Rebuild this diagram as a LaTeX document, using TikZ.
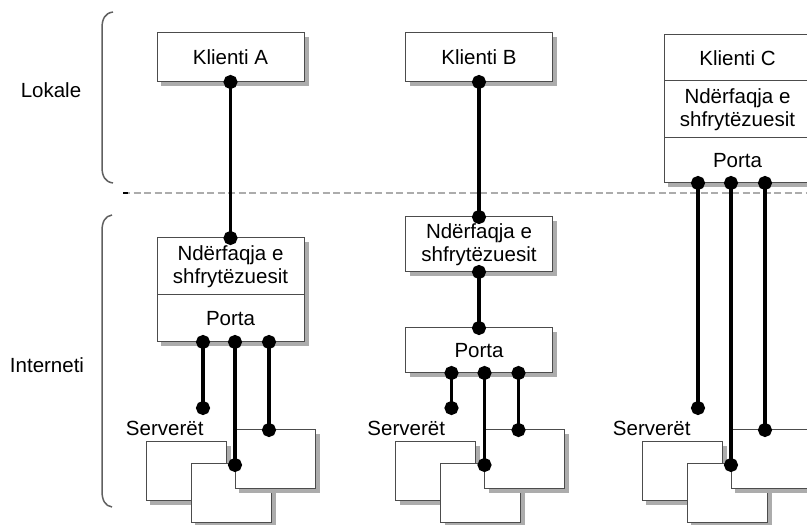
\documentclass[tikz,border=0pt]{standalone}
\usepackage{fontspec}
\setmainfont{Liberation Sans}
\usetikzlibrary{positioning,arrows.meta}

\begin{document}
\begin{tikzpicture}[x=1pt,y=1pt,node distance=0pt,font=\fontsize{20.5}{23}\selectfont,
	box/.style={draw=gray!60!black,line width=1pt,fill=white,minimum width=147pt,inner sep=0pt,outer sep=0pt,align=center},
	srv/.style={box,minimum width=80pt,minimum height=59pt},
	cast/.style={draw=gray!65,line width=4pt},
	link/.style={line width=3.2pt,{Circle[length=14pt]}-{Circle[length=14pt]},shorten <=-7pt,shorten >=-7pt},
	divider/.style={draw=gray!65,line width=1.8pt,dash pattern=on 7pt off 3.5pt},
	brace/.style={draw=gray!75!black,line width=1.5pt}]
	\useasboundingbox (0,0) rectangle (807,525);

	% zones
	\coordinate (sep_l) at (123,332);
	\coordinate (sep_r) at (807,332);
	\draw[divider] (sep_l) -- (sep_r);
	\draw[line width=2pt] (sep_l) -- ++(5,0);
	\draw[brace] (113,513) .. controls (105,512) and (102,506) .. (102,497) -- (102,358) .. controls (102,349) and (105,343) .. (113,342);
	\draw[brace] (112,310) .. controls (105,309) and (102,303) .. (102,294) -- (102,34) .. controls (102,25) and (105,19) .. (112,18);
	\node (lok) at (51,435) {Lokale};
	\node (net) at (47,160) {Interneti};

	% clients
	\node[box,minimum height=49pt] (k_A) at (230.5,467.5) {Klienti A};
	\node[box,minimum height=49pt] (k_B) at (479,467.5) {Klienti B};
	\node[box,minimum height=46pt] (k_C) at (737.5,467) {Klienti C};
	\node[box,minimum height=57pt] (u_C) [below=of k_C] {Ndërfaqja e\\shfrytëzuesit};
	\node[box,minimum height=45pt] (p_C) [below=of u_C] {Porta};

	\node[box,minimum height=57pt] (u_A) at (230.5,258.5) {Ndërfaqja e\\shfrytëzuesit};
	\node[box,minimum height=47pt] (p_A) [below=of u_A] {Porta};
	\node[box,minimum height=55pt] (u_B) at (479,280.5) {Ndërfaqja e\\shfrytëzuesit};
	\node[box,minimum height=45pt] (p_B) [below=56pt of u_B] {Porta};

	% shadows of the boxes
	\draw[cast] ([shift={(4pt,-2.5pt)}]k_A.south west) -- ([shift={(2.5pt,-2.5pt)}]k_A.south east) -- ([shift={(2.5pt,-4pt)}]k_A.north east);
	\draw[cast] ([shift={(4pt,-2.5pt)}]k_B.south west) -- ([shift={(2.5pt,-2.5pt)}]k_B.south east) -- ([shift={(2.5pt,-4pt)}]k_B.north east);
	\draw[cast] ([shift={(4pt,-2.5pt)}]p_C.south west) -- ([shift={(2.5pt,-2.5pt)}]p_C.south east) -- ([shift={(2.5pt,-4pt)}]k_C.north east);
	\draw[cast] ([shift={(4pt,-2.5pt)}]p_A.south west) -- ([shift={(2.5pt,-2.5pt)}]p_A.south east) -- ([shift={(2.5pt,-4pt)}]u_A.north east);
	\draw[cast] ([shift={(4pt,-2.5pt)}]u_B.south west) -- ([shift={(2.5pt,-2.5pt)}]u_B.south east) -- ([shift={(2.5pt,-4pt)}]u_B.north east);
	\draw[cast] ([shift={(4pt,-2.5pt)}]p_B.south west) -- ([shift={(2.5pt,-2.5pt)}]p_B.south east) -- ([shift={(2.5pt,-4pt)}]p_B.north east);

	% ports and server levels
	\coordinate (lvl1) at (0,117);
	\coordinate (lvl2) at (0,60);
	\coordinate (lvl3) at (0,95);
	\coordinate (d1_A) at ([xshift=46pt]p_A.south west);
	\coordinate (d2_A) at ([xshift=78pt]p_A.south west);
	\coordinate (d3_A) at ([xshift=112pt]p_A.south west);
	\coordinate (d1_B) at ([xshift=46pt]p_B.south west);
	\coordinate (d2_B) at ([xshift=79pt]p_B.south west);
	\coordinate (d3_B) at ([xshift=113pt]p_B.south west);
	\coordinate (d1_C) at ([xshift=34pt]p_C.south west);
	\coordinate (d2_C) at ([xshift=67pt]p_C.south west);
	\coordinate (d3_C) at ([xshift=101pt]p_C.south west);
	\coordinate (s1_A) at (d1_A |- lvl1);
	\coordinate (s2_A) at (d2_A |- lvl2);
	\coordinate (s3_A) at (d3_A |- lvl3);
	\coordinate (s1_B) at (d1_B |- lvl1);
	\coordinate (s2_B) at (d2_B |- lvl2);
	\coordinate (s3_B) at (d3_B |- lvl3);
	\coordinate (s1_C) at (d1_C |- lvl1);
	\coordinate (s2_C) at (d2_C |- lvl2);
	\coordinate (s3_C) at (d3_C |- lvl3);
	\coordinate (a_A) at ([xshift=-89pt,yshift=23pt]s2_A);
	\coordinate (b_A) at ([xshift=-44pt,yshift=1pt]s2_A);
	\coordinate (c_A) at (s2_A |- s3_A);
	\coordinate (a_B) at ([xshift=-89pt,yshift=23pt]s2_B);
	\coordinate (b_B) at ([xshift=-44pt,yshift=1pt]s2_B);
	\coordinate (c_B) at (s2_B |- s3_B);
	\coordinate (a_C) at ([xshift=-89pt,yshift=23pt]s2_C);
	\coordinate (b_C) at ([xshift=-44pt,yshift=1pt]s2_C);
	\coordinate (c_C) at (s2_C |- s3_C);

	% servers, each on its shadow
	\draw[cast] ([shift={(4pt,-61.5pt)}]a_A) -- ++(78.5,0) -- ++(0,57.5);
	\node[srv,anchor=north west] (sa_A) at (a_A) {};
	\draw[cast] ([shift={(4pt,-61.5pt)}]b_A) -- ++(78.5,0) -- ++(0,57.5);
	\node[srv,anchor=north west] (sb_A) at (b_A) {};
	\draw[cast] ([shift={(4pt,-61.5pt)}]c_A) -- ++(78.5,0) -- ++(0,57.5);
	\node[srv,anchor=north west] (sc_A) at (c_A) {};
	\draw[cast] ([shift={(4pt,-61.5pt)}]a_B) -- ++(78.5,0) -- ++(0,57.5);
	\node[srv,anchor=north west] (sa_B) at (a_B) {};
	\draw[cast] ([shift={(4pt,-61.5pt)}]b_B) -- ++(78.5,0) -- ++(0,57.5);
	\node[srv,anchor=north west] (sb_B) at (b_B) {};
	\draw[cast] ([shift={(4pt,-61.5pt)}]c_B) -- ++(78.5,0) -- ++(0,57.5);
	\node[srv,anchor=north west] (sc_B) at (c_B) {};
	\draw[cast] ([shift={(4pt,-61.5pt)}]a_C) -- ++(78.5,0) -- ++(0,57.5);
	\node[srv,anchor=north west] (sa_C) at (a_C) {};
	\draw[cast] ([shift={(4pt,-61.5pt)}]b_C) -- ++(78.5,0) -- ++(0,57.5);
	\node[srv,anchor=north west] (sb_C) at (b_C) {};
	\draw[cast] ([shift={(4pt,-61.5pt)}]c_C) -- ++(78.5,0) -- ++(0,57.5);
	\node[srv,anchor=north west] (sc_C) at (c_C) {};
	\node[anchor=east] (t_A) at ([xshift=4pt,yshift=-20pt]s1_A) {Serverët};
	\node[anchor=east] (t_B) at ([xshift=-3pt,yshift=-20pt]s1_B) {Serverët};
	\node[anchor=east] (t_C) at ([xshift=-4pt,yshift=-20pt]s1_C) {Serverët};

	\path[link]
	(k_A.south) edge (u_A.north)
	(d1_A) edge (s1_A)
	(d2_A) edge (s2_A)
	(d3_A) edge (s3_A)
	(k_B.south) edge (u_B.north)
	(u_B.south) edge (p_B.north)
	(d1_B) edge (s1_B)
	(d2_B) edge (s2_B)
	(d3_B) edge (s3_B)
	(d1_C) edge (s1_C)
	(d2_C) edge (s2_C)
	(d3_C) edge (s3_C);
\end{tikzpicture}
\end{document}
